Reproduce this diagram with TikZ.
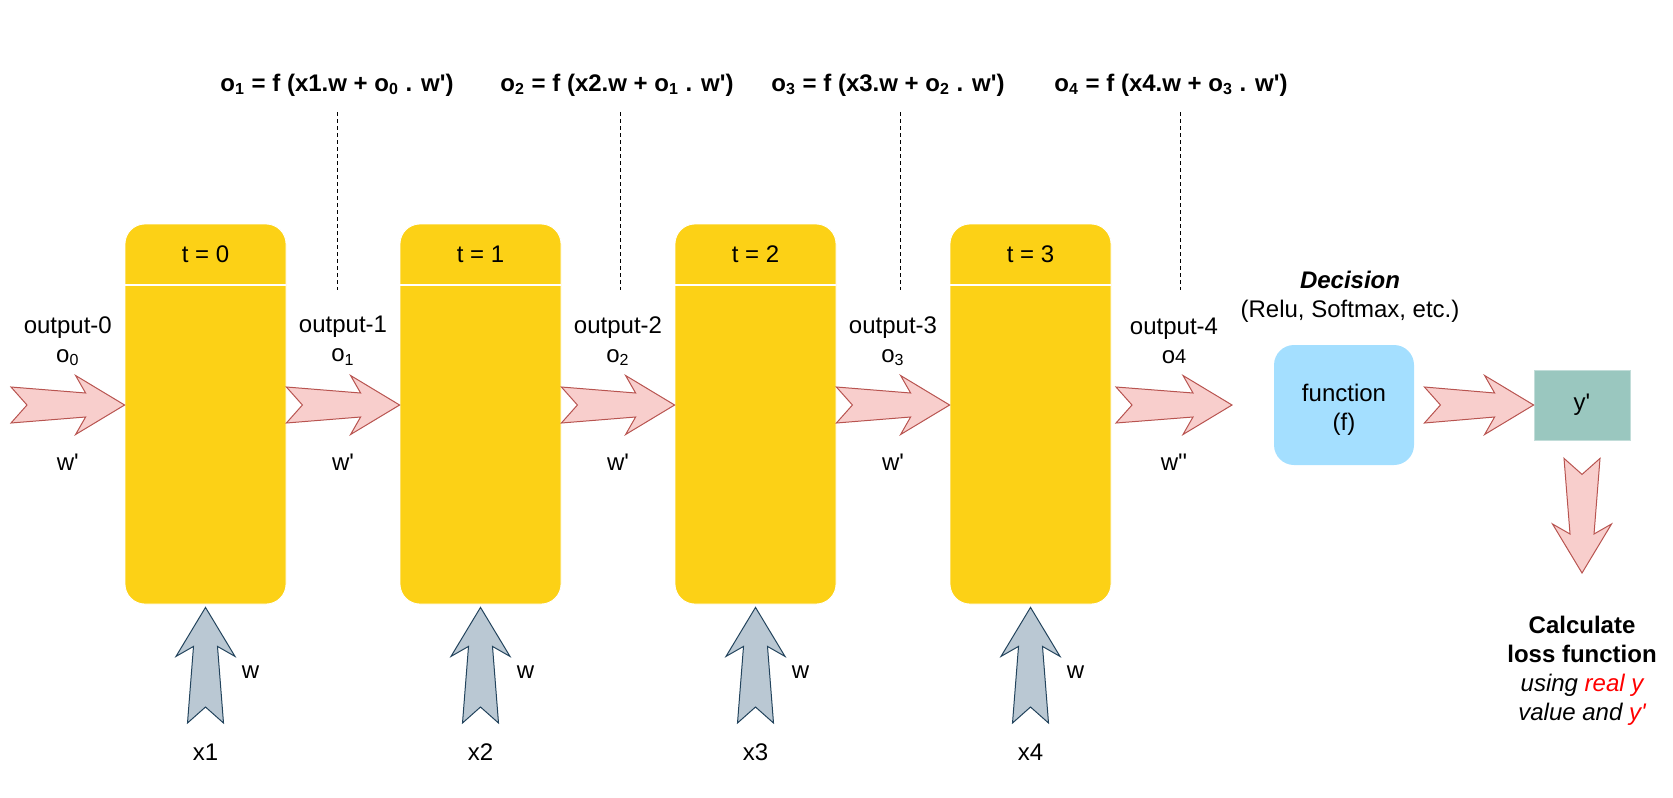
\documentclass[tikz,border=0pt,12pt]{standalone}
\usepackage{fontspec}
\setmainfont{Liberation Sans}[Ligatures=TeXOff]
\usetikzlibrary{calc}

\definecolor{cellyellow}{HTML}{FCD116}
\definecolor{redfill}{HTML}{F8CECC}
\definecolor{redline}{HTML}{B85450}
\definecolor{grayfill}{HTML}{BAC8D3}
\definecolor{grayline}{HTML}{23445D}
\definecolor{funcblue}{HTML}{A4DFFF}
\definecolor{outteal}{HTML}{9AC7BF}

% notched fat arrow from #2 (tail) to #3 (tip)
\newcommand{\fatarrow}[3][]{%
  \filldraw[#1] ($(#2)!9pt!90:(#3)$) -- ($(#3)!19.5pt!(#2)!6pt!90:(#3)$)
    -- ($(#3)!24.5pt!(#2)!14.75pt!90:(#3)$) -- (#3)
    -- ($(#3)!24.5pt!(#2)!14.75pt!-90:(#3)$) -- ($(#3)!19.5pt!(#2)!6pt!-90:(#3)$)
    -- ($(#2)!9pt!-90:(#3)$) -- ($(#2)!8pt!(#3)$) -- cycle;}

\begin{document}
\begin{tikzpicture}[x=0.5pt,y=-0.5pt,
    cell/.style={fill=cellyellow,draw=white,rounded corners=10pt,minimum width=80.5pt,minimum height=190pt,inner sep=0pt},
    flow/.style={fill=redfill,draw=redline,line width=0.5pt,line join=miter},
    feed/.style={fill=grayfill,draw=grayline,line width=0.5pt,line join=miter},
    formula/.style={font=\bfseries},
    guide/.style={draw=black,line width=0.4pt,dash pattern=on 2pt off 1.5pt}]
    \useasboundingbox (0,0) rectangle (1673,797);% same frame as the reference

    % time steps
    \foreach \i [count=\n] in {0,...,3}{
        \node[cell] (b\i) at ({205.5+275*\i},414) {};
        \draw[white,line width=0.6pt] (b\i.west |- 0,285) -- (b\i.east |- 0,285);
        \node (t\i) at ($(b\i.north)+(0,31)$) {t = \i};
        \coordinate (xt\i) at ({205.5+275*\i},723);
        \coordinate (xh\i) at ($(b\i.south)+(0,3)$);
        \fatarrow[feed]{xt\i}{xh\i}
        \node (xl\i) at ({205.5+275*\i},752) {x\n};
        \node (wl\i) at ({250.5+275*\i},672) {w};
    }

    % formulas and guides
    \foreach \k/\fx/\dx/\p in {1/337/337/0,2/617/620/1,3/888/900/2,4/1171/1180/3}{
        \node[formula] (fm\k) at (\fx,85) {o\textsubscript{\k} = f (x\k.w + o\textsubscript{\p} . w')};
        \coordinate (dt\k) at (\dx,112);
        \coordinate (db\k) at (\dx,290);
        \draw[guide] (dt\k) -- (db\k);
    }

    % recurrent outputs
    \coordinate (row) at (0,405);
    \coordinate (ra0) at (11,405);
    \coordinate (rb0) at (b0.west |- row);
    \foreach \i [count=\j] in {0,...,2}{
        \coordinate (ra\j) at (b\i.east |- row);
        \coordinate (rb\j) at (b\j.west |- row);
    }
    \coordinate (ra4) at (1116,405);
    \coordinate (rb4) at (1232,405);
    \foreach \i in {0,...,4}{
        \fatarrow[flow]{ra\i}{rb\i}
        \coordinate (rm\i) at ($(ra\i)!0.5!(rb\i)$);
    }
    \foreach \i in {0,...,3}{
        \node[align=center] (ol\i) at (rm\i |- 0,341) {output-\i\\o\textsubscript{\i}};
        \node (wp\i) at (rm\i |- 0,462) {w'};
    }
    \node[align=center] (ol4) at (rm4 |- 0,341) {output-4\\o{\footnotesize 4}};
    \node (wp4) at (rm4 |- 0,462) {w''};

    % decision
    \node[align=center] (dec) at (1350,297) {\textbf{\textit{Decision}}\\(Relu, Softmax, etc.)};
    \node[fill=funcblue,rounded corners=10pt,minimum width=70pt,minimum height=60pt,align=center] (f) at (1344,405) {\rule{0pt}{13.5pt}function\\(f)};
    \node[fill=outteal,draw=outteal!60!white,line width=0.4pt,minimum width=48pt,minimum height=35pt] (yp) at (1582,405) {y'};
    \coordinate (fa) at ($(f.east)+(10,0)$);
    \fatarrow[flow]{fa}{yp.west}
    \coordinate (ld) at ($(yp.south)+(0,18)$);
    \coordinate (lt) at (1582,573);
    \fatarrow[flow]{ld}{lt}
    \node[align=center] (loss) at (1582,671) {\textbf{Calculate}\\\textbf{loss function}\\\textit{using \textcolor{red}{real y}}\\\textit{value and \textcolor{red}{y'}}};
\end{tikzpicture}
\end{document}
